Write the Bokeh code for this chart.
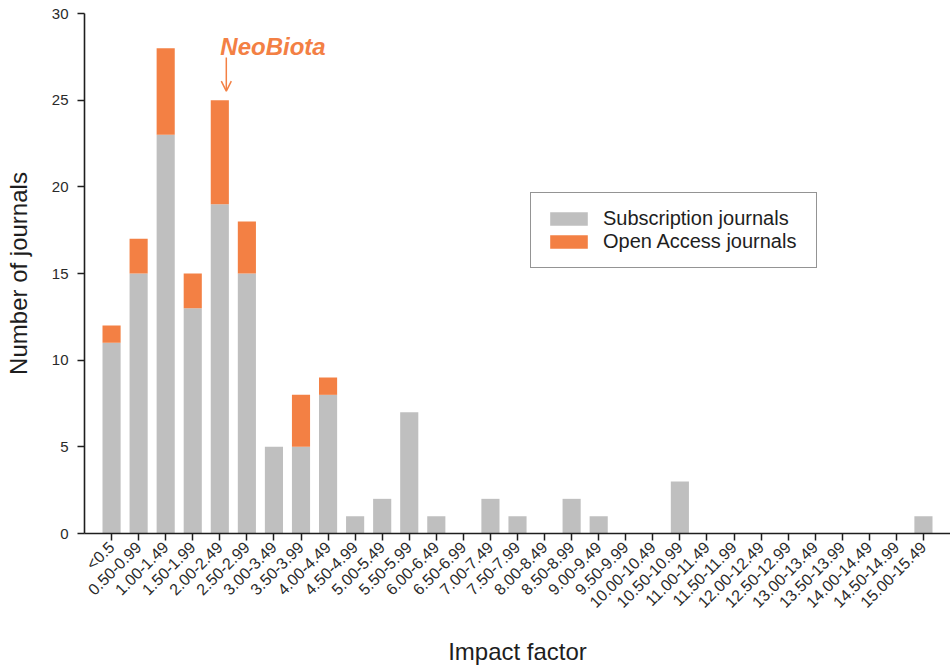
import math
from bokeh.plotting import figure
from bokeh.models import FixedTicker, Range1d, Legend, LegendItem, Arrow, OpenHead, Label, ColumnDataSource
from bokeh.embed import file_html
from bokeh.resources import INLINE

categories = ["<0.5", "0.50-0.99", "1.00-1.49", "1.50-1.99", "2.00-2.49", "2.50-2.99",
              "3.00-3.49", "3.50-3.99", "4.00-4.49", "4.50-4.99", "5.00-5.49", "5.50-5.99",
              "6.00-6.49", "6.50-6.99", "7.00-7.49", "7.50-7.99", "8.00-8.49", "8.50-8.99",
              "9.00-9.49", "9.50-9.99", "10.00-10.49", "10.50-10.99", "11.00-11.49",
              "11.50-11.99", "12.00-12.49", "12.50-12.99", "13.00-13.49", "13.50-13.99",
              "14.00-14.49", "14.50-14.99", "15.00-15.49"]
subscription = [11, 15, 23, 13, 19, 15, 5, 5, 8, 1, 2, 7, 1, 0, 2, 1, 0, 2, 1, 0, 0, 3,
                0, 0, 0, 0, 0, 0, 0, 0, 1]
open_access = [1, 2, 5, 2, 6, 3, 0, 3, 1, 0, 0, 0, 0, 0, 0, 0, 0, 0, 0, 0, 0, 0,
               0, 0, 0, 0, 0, 0, 0, 0, 0]
y_ticks = [0, 5, 10, 15, 20, 25, 30]
highlight = "2.00-2.49"

GREY = "#bfbfbf"
ORANGE = "#f38044"
FONT = "Liberation Sans"
DARK = "#1e1e1e"

xs = list(range(len(categories)))
total = [s + o for s, o in zip(subscription, open_access)]
src = ColumnDataSource(dict(x=xs, sub=subscription, tot=total))

p = figure(width=950, height=668, output_backend="svg", toolbar_location=None,
           x_range=Range1d(-1.0, 31.0), y_range=Range1d(0, 30),
           min_border_left=84, min_border_right=0, min_border_top=13, min_border_bottom=135)
p.outline_line_color = None
p.xgrid.visible = False
p.ygrid.visible = False

r_sub = p.vbar(x="x", width=0.67, top="sub", bottom=0, source=src,
               fill_color=GREY, line_color=None)
r_oa = p.vbar(x="x", width=0.67, top="tot", bottom="sub", source=src,
              fill_color=ORANGE, line_color=None)

# axes
p.xaxis.ticker = FixedTicker(ticks=xs)
p.xaxis.major_label_overrides = {i: c for i, c in enumerate(categories)}
p.xaxis.major_label_orientation = math.pi / 4
p.xaxis.minor_tick_line_color = None
p.yaxis.ticker = FixedTicker(ticks=y_ticks)
p.yaxis.minor_tick_line_color = None
for ax in (p.xaxis[0], p.yaxis[0]):
    ax.axis_line_color = DARK
    ax.axis_line_width = 1.6
    ax.major_tick_line_color = DARK
    ax.major_tick_line_width = 1.5
    ax.major_tick_in = 0
    ax.major_tick_out = 7
    ax.major_label_text_font = FONT
    ax.major_label_text_color = "#2a2a2a"
    ax.axis_label_text_font = FONT
    ax.axis_label_text_font_style = "normal"
    ax.axis_label_text_color = DARK
    ax.axis_label_text_font_size = "24px"
p.xaxis.major_label_text_font_size = "16px"
p.yaxis.major_label_text_font_size = "15px"
p.xaxis.major_label_standoff = 4
p.yaxis.major_label_standoff = 9
p.xaxis.axis_label = "Impact factor"
p.yaxis.axis_label = "Number of journals"
p.xaxis.axis_label_standoff = 18
p.yaxis.axis_label_standoff = 17

# legend
legend = Legend(items=[LegendItem(label="Subscription journals", renderers=[r_sub]),
                       LegendItem(label="Open Access journals", renderers=[r_oa])],
                location=(446, 265))
legend.label_text_font = FONT
legend.label_text_font_size = "20px"
legend.label_text_color = DARK
legend.glyph_width = 47
legend.glyph_height = 17
legend.label_standoff = 11
legend.label_width = 199
legend.label_height = 23
legend.spacing = 0
legend.padding = 14
legend.margin = 0
legend.border_line_color = "#2a2a2a"
legend.border_line_width = 1.3
legend.background_fill_alpha = 1
p.add_layout(legend)

# NeoBiota annotation
hi = categories.index(highlight)
arrow_x = hi + 0.24
p.add_layout(Arrow(end=OpenHead(size=10, line_color=ORANGE, line_width=1.5),
                   x_start=arrow_x, y_start=total[hi] + 2.46,
                   x_end=arrow_x, y_end=total[hi] + 0.52,
                   line_color=ORANGE, line_width=1.5))
p.add_layout(Label(x=arrow_x, y=total[hi] + 2.75, x_offset=-6, y_offset=6, text="NeoBiota",
                   text_font=FONT, text_font_style="bold italic", text_font_size="24px",
                   text_color=ORANGE, text_baseline="alphabetic", text_align="left"))

open("out.html", "w").write(file_html(p, INLINE))
